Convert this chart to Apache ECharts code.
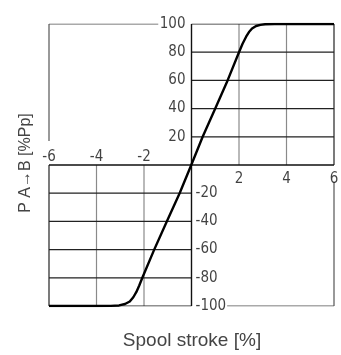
<!DOCTYPE html>
<html><head><meta charset="utf-8">
<script src="https://cdn.jsdelivr.net/npm/echarts@6/dist/echarts.min.js"></script>
<style>html,body{margin:0;padding:0;background:#fff}#c{width:341px;height:355px}</style>
</head><body><div id="c"></div>
<script>
// Data
const strokeX = [-6, -4, -3.4, -3.05, -2.8, -2.6, -2.45, -2.32, -2.2, -2.07, -1.57, -1.04, -0.5, -0.01, 0.47, 1.0, 1.52, 2.0, 2.15, 2.3, 2.42, 2.55, 2.72, 2.9, 3.1, 3.5, 6];
const flowY   = [-100, -100, -99.9, -99.6, -98.6, -96.8, -93.8, -90, -85.5, -80, -60, -40, -20, 0, 20, 40, 60, 80, 86, 91, 94.3, 96.8, 98.6, 99.4, 99.8, 100, 100];
const xTicks = [-6, -4, -2, 0, 2, 4, 6];
const yTicks = [-100, -80, -60, -40, -20, 0, 20, 40, 60, 80, 100];
const xTitle = 'Spool stroke [%]';
const yTitle = 'P A\u2192B [%Pp]';

const curve = strokeX.map((x, i) => [x, flowY[i]]);
function segs(list) {
  const d = [];
  list.forEach(s => { d.push(s[0], s[1], '-'); });
  return d;
}
const xMin = xTicks[0], xMax = xTicks[xTicks.length - 1];
const yMin = yTicks[0], yMax = yTicks[yTicks.length - 1];
const grayV = [];
xTicks.filter(v => v > 0 && v < xMax).forEach(v => grayV.push([[v, 0], [v, yMax]]));
xTicks.filter(v => v < 0 && v > xMin).forEach(v => grayV.push([[v, yMin], [v, 0]]));
const darkH = [];
yTicks.filter(v => v > 0 && v < yMax).forEach(v => darkH.push([[0, v], [xMax, v]]));
yTicks.filter(v => v < 0 && v > yMin).forEach(v => darkH.push([[xMin, v], [0, v]]));
darkH.push([[0, yMax], [xMax, yMax]], [[xMax, 0], [xMax, yMax]]);
darkH.push([[xMin, yMin], [0, yMin]], [[xMin, yMin], [xMin, 0]]);
const zeroLines = [[[xMin, 0], [xMax, 0]], [[0, yMin], [0, yMax]]];
const frame = [
  [[xMin, yMax], [-1.4, yMax]],
  [[xMin, yMax], [xMin, 17]],
  [[1.5, yMin], [xMax, yMin]],
  [[xMax, yMin], [xMax, -12]]
];

const lblFont = '"Liberation Sans Narrow","DejaVu Sans Condensed",sans-serif';
const titleFont = '"Liberation Sans",Arial,sans-serif';
function tickLabels(points, pos, dist) {
  return {
    type: 'scatter', symbolSize: 0.01, silent: true, z: 6,
    data: points.map(p => ({ value: p[0], label: { formatter: p[1] } })),
    label: { show: true, position: pos, distance: dist, fontSize: 15, color: '#111', fontFamily: lblFont }
  };
}
const chart = echarts.init(document.getElementById('c'), null, { renderer: 'canvas' });
chart.setOption({
  animation: false,
  grid: { left: 49, right: 7, top: 24, bottom: 49 },
  xAxis: { type: 'value', min: xMin, max: xMax, interval: 2, show: false },
  yAxis: { type: 'value', min: yMin, max: yMax, interval: 20, show: false },
  graphic: [
    { type: 'text', x: 192, y: 341, style: { text: xTitle, fontSize: 19, fill: '#444', align: 'center', verticalAlign: 'middle', fontFamily: titleFont } },
    { type: 'text', x: 18, y: 163, rotation: Math.PI / 2, style: { text: yTitle, fontSize: 16, fill: '#444', align: 'center', verticalAlign: 'top', fontFamily: titleFont } }
  ],
  series: [
    { type: 'line', data: segs(grayV), symbol: 'none', silent: true, lineStyle: { color: '#8a8a8a', width: 1.2 }, z: 1 },
    { type: 'line', data: segs(darkH), symbol: 'none', silent: true, lineStyle: { color: '#222', width: 1.2 }, z: 2 },
    { type: 'line', data: segs(zeroLines), symbol: 'none', silent: true, lineStyle: { color: '#111', width: 1.4 }, z: 3 },
    { type: 'line', data: segs(frame), symbol: 'none', silent: true, lineStyle: { color: '#555', width: 1.2 }, z: 2 },
    tickLabels(xTicks.filter(v => v < 0).map(v => [[v, 0], String(v)]), 'top', 0),
    tickLabels(xTicks.filter(v => v > 0).map(v => [[v, 0], String(v)]), 'bottom', 7),
    tickLabels(yTicks.filter(v => v > 0).map(v => [[0, v], String(v)]), 'left', 6),
    tickLabels(yTicks.filter(v => v < 0).map(v => [[0, v], String(v)]), 'right', 4),
    { type: 'line', data: curve, symbol: 'none', smooth: false, lineStyle: { color: '#000', width: 2.4, join: 'round' }, z: 5 }
  ]
});
</script></body></html>
